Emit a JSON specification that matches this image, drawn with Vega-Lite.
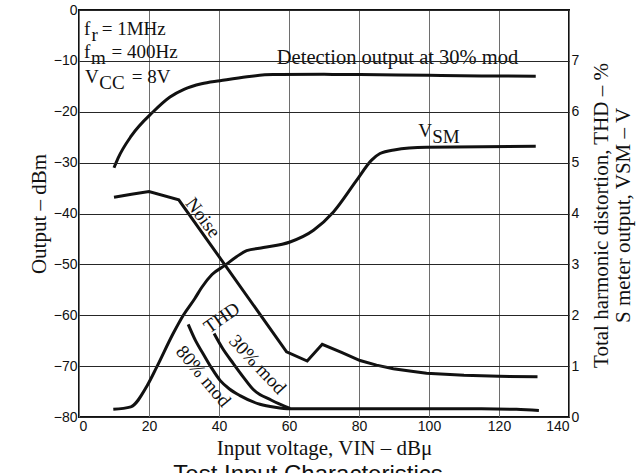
{
  "$schema": "https://vega.github.io/schema/vega-lite/v6.json",
  "width": 490,
  "height": 407,
  "autosize": {"type": "none"},
  "padding": {"left": 79, "top": 10, "right": 69, "bottom": 56},
  "background": "white",
  "title": {"text": "Test Input Characteristics", "orient": "bottom", "anchor": "middle", "font": "Liberation Sans", "fontSize": 24, "fontWeight": "normal", "color": "#111", "offset": 5, "dx": -16},
  "config": {
    "view": {"stroke": "#111", "strokeWidth": 2},
    "axis": {"labelFont": "Liberation Sans", "labelFontSize": 14, "labelColor": "#111", "titleFont": "Liberation Serif", "titleFontSize": 21, "titleFontWeight": "normal", "titleColor": "#111", "ticks": false, "domain": false},
    "text": {"font": "Liberation Serif", "fontSize": 19, "color": "#111"}
  },
  "datasets": {
    "left": [
      {"series": "Detection output", "x": 10, "y": -31},
      {"series": "Detection output", "x": 11.1, "y": -29.2},
      {"series": "Detection output", "x": 15, "y": -24.7},
      {"series": "Detection output", "x": 21.2, "y": -20},
      {"series": "Detection output", "x": 26, "y": -17.1},
      {"series": "Detection output", "x": 30, "y": -15.6},
      {"series": "Detection output", "x": 35, "y": -14.5},
      {"series": "Detection output", "x": 40.3, "y": -13.9},
      {"series": "Detection output", "x": 48, "y": -13.1},
      {"series": "Detection output", "x": 55.4, "y": -12.7},
      {"series": "Detection output", "x": 70, "y": -12.65},
      {"series": "Detection output", "x": 80.3, "y": -12.7},
      {"series": "Detection output", "x": 100, "y": -12.85},
      {"series": "Detection output", "x": 115, "y": -12.95},
      {"series": "Detection output", "x": 130.5, "y": -13.0},
      {"series": "Noise", "x": 10, "y": -36.8},
      {"series": "Noise", "x": 15, "y": -36.2},
      {"series": "Noise", "x": 20, "y": -35.7},
      {"series": "Noise", "x": 28.5, "y": -37.3},
      {"series": "Noise", "x": 59.3, "y": -67.2},
      {"series": "Noise", "x": 65.2, "y": -69.0},
      {"series": "Noise", "x": 69.5, "y": -65.7},
      {"series": "Noise", "x": 75, "y": -67.3},
      {"series": "Noise", "x": 80.3, "y": -68.9},
      {"series": "Noise", "x": 85, "y": -69.8},
      {"series": "Noise", "x": 89.8, "y": -70.5},
      {"series": "Noise", "x": 95, "y": -71.0},
      {"series": "Noise", "x": 99.3, "y": -71.4},
      {"series": "Noise", "x": 110, "y": -71.8},
      {"series": "Noise", "x": 120, "y": -72.0},
      {"series": "Noise", "x": 131, "y": -72.1}
    ],
    "right": [
      {"series": "VSM", "x": 9.8, "y": 0.15},
      {"series": "VSM", "x": 14.8, "y": 0.2},
      {"series": "VSM", "x": 19.5, "y": 0.62},
      {"series": "VSM", "x": 22.2, "y": 0.98},
      {"series": "VSM", "x": 26.9, "y": 1.64},
      {"series": "VSM", "x": 29.8, "y": 2.0},
      {"series": "VSM", "x": 33.1, "y": 2.33},
      {"series": "VSM", "x": 35.1, "y": 2.55},
      {"series": "VSM", "x": 38, "y": 2.8},
      {"series": "VSM", "x": 41.7, "y": 2.98},
      {"series": "VSM", "x": 45, "y": 3.15},
      {"series": "VSM", "x": 47.9, "y": 3.27},
      {"series": "VSM", "x": 52.7, "y": 3.33},
      {"series": "VSM", "x": 60.3, "y": 3.44},
      {"series": "VSM", "x": 67, "y": 3.67},
      {"series": "VSM", "x": 72.7, "y": 4.03},
      {"series": "VSM", "x": 79.3, "y": 4.65},
      {"series": "VSM", "x": 83.6, "y": 5.05},
      {"series": "VSM", "x": 86, "y": 5.18},
      {"series": "VSM", "x": 90, "y": 5.25},
      {"series": "VSM", "x": 99.3, "y": 5.3},
      {"series": "VSM", "x": 130.5, "y": 5.32},
      {"series": "THD 30% mod", "x": 38.6, "y": 1.64},
      {"series": "THD 30% mod", "x": 41, "y": 1.35},
      {"series": "THD 30% mod", "x": 44.1, "y": 1.05},
      {"series": "THD 30% mod", "x": 47, "y": 0.78},
      {"series": "THD 30% mod", "x": 49.8, "y": 0.54},
      {"series": "THD 30% mod", "x": 55, "y": 0.33},
      {"series": "THD 30% mod", "x": 60.3, "y": 0.17},
      {"series": "THD 80% mod", "x": 31.2, "y": 1.82},
      {"series": "THD 80% mod", "x": 33.3, "y": 1.5},
      {"series": "THD 80% mod", "x": 35.5, "y": 1.24},
      {"series": "THD 80% mod", "x": 38, "y": 0.95},
      {"series": "THD 80% mod", "x": 40.3, "y": 0.72},
      {"series": "THD 80% mod", "x": 43, "y": 0.55},
      {"series": "THD 80% mod", "x": 46, "y": 0.42},
      {"series": "THD 80% mod", "x": 51.7, "y": 0.25},
      {"series": "THD 80% mod", "x": 56, "y": 0.19},
      {"series": "THD 80% mod", "x": 60.3, "y": 0.16},
      {"series": "THD 80% mod", "x": 80, "y": 0.16},
      {"series": "THD 80% mod", "x": 100, "y": 0.16},
      {"series": "THD 80% mod", "x": 115, "y": 0.16},
      {"series": "THD 80% mod", "x": 125, "y": 0.15},
      {"series": "THD 80% mod", "x": 131.4, "y": 0.13}
    ],
    "labels": [
      {"text": "f", "x": 1.4, "y": -5.0},
      {"text": "= 1MHz", "x": 6.5, "y": -5.0},
      {"text": "f", "x": 1.4, "y": -9.53},
      {"text": "= 400Hz", "x": 9.3, "y": -9.53},
      {"text": "V", "x": 1.7, "y": -14.44},
      {"text": "= 8V", "x": 15.05, "y": -14.44},
      {"text": "V", "x": 96.9, "y": -25.05}
    ],
    "subs": [
      {"text": "r", "x": 3.6, "y": -5.0},
      {"text": "m", "x": 3.43, "y": -9.53},
      {"text": "CC", "x": 5.8, "y": -14.44},
      {"text": "SM", "x": 100.9, "y": -25.05}
    ],
    "captions": [
      {"text": "Detection output at 30% mod", "x": 91, "y": -10.6},
      {"text": "Noise", "x": 35.4, "y": -40.8},
      {"text": "THD", "x": 40.8, "y": -60.5},
      {"text": "30% mod", "x": 51, "y": -69.7},
      {"text": "80% mod", "x": 35.5, "y": -72}
    ]
  },
  "layer": [
    {
      "data": {"name": "left"},
      "transform": [{"filter": "datum.series == 'Detection output'"}],
      "mark": {"type": "line", "color": "#111", "strokeWidth": 3, "interpolate": "monotone"},
      "encoding": {
        "x": {"field": "x", "type": "quantitative", "scale": {"domain": [0, 140], "nice": false, "zero": false},
          "axis": {"values": [0, 20, 40, 60, 80, 100, 120, 140], "grid": true, "gridColor": "#6e6e6e", "title": "Input voltage, VIN  –  dBμ"}},
        "y": {"field": "y", "type": "quantitative", "scale": {"domain": [-80, 0], "nice": false, "zero": false},
          "axis": {"values": [-80, -70, -60, -50, -40, -30, -20, -10, 0], "grid": true, "gridColor": "#262626", "zindex": 1, "title": "Output  –  dBm"}}
      }
    },
    {
      "data": {"name": "left"},
      "transform": [{"filter": "datum.series == 'Noise'"}],
      "mark": {"type": "line", "color": "#111", "strokeWidth": 3, "interpolate": "linear"},
      "encoding": {
        "x": {"field": "x", "type": "quantitative", "scale": {"domain": [0, 140], "nice": false, "zero": false}},
        "y": {"field": "y", "type": "quantitative", "scale": {"domain": [-80, 0], "nice": false, "zero": false}, "axis": null}
      }
    },
    {
      "data": {"name": "right"},
      "transform": [{"filter": "datum.series == 'VSM'"}],
      "mark": {"type": "line", "color": "#111", "strokeWidth": 3, "interpolate": "monotone"},
      "encoding": {
        "x": {"field": "x", "type": "quantitative", "scale": {"domain": [0, 140], "nice": false, "zero": false}},
        "y": {"field": "y", "type": "quantitative", "scale": {"domain": [0, 8], "nice": false, "zero": false},
          "axis": {"orient": "right", "values": [0, 1, 2, 3, 4, 5, 6, 7], "grid": false,
            "title": ["Total harmonic distortion, THD – %", "S meter output, VSM – V"],
            "titleAngle": 270, "titleX": 32, "titleY": 205, "titleAlign": "center", "titleBaseline": "middle", "titleLineHeight": 22}}
      }
    },
    {
      "data": {"name": "right"},
      "transform": [{"filter": "datum.series == 'THD 30% mod'"}],
      "mark": {"type": "line", "color": "#111", "strokeWidth": 3, "interpolate": "monotone"},
      "encoding": {
        "x": {"field": "x", "type": "quantitative", "scale": {"domain": [0, 140], "nice": false, "zero": false}},
        "y": {"field": "y", "type": "quantitative", "scale": {"domain": [0, 8], "nice": false, "zero": false}, "axis": null}
      }
    },
    {
      "data": {"name": "right"},
      "transform": [{"filter": "datum.series == 'THD 80% mod'"}],
      "mark": {"type": "line", "color": "#111", "strokeWidth": 3, "interpolate": "monotone"},
      "encoding": {
        "x": {"field": "x", "type": "quantitative", "scale": {"domain": [0, 140], "nice": false, "zero": false}},
        "y": {"field": "y", "type": "quantitative", "scale": {"domain": [0, 8], "nice": false, "zero": false}, "axis": null}
      }
    },
    {
      "data": {"name": "labels"},
      "mark": {"type": "text", "align": "left", "baseline": "alphabetic"},
      "encoding": {
        "x": {"field": "x", "type": "quantitative", "scale": {"domain": [0, 140], "nice": false, "zero": false}},
        "y": {"field": "y", "type": "quantitative", "scale": {"domain": [-80, 0], "nice": false, "zero": false}, "axis": null},
        "text": {"field": "text"}
      }
    },
    {
      "data": {"name": "subs"},
      "mark": {"type": "text", "align": "left", "baseline": "alphabetic", "dy": 6},
      "encoding": {
        "x": {"field": "x", "type": "quantitative", "scale": {"domain": [0, 140], "nice": false, "zero": false}},
        "y": {"field": "y", "type": "quantitative", "scale": {"domain": [-80, 0], "nice": false, "zero": false}, "axis": null},
        "text": {"field": "text"}
      }
    },
    {
      "data": {"name": "captions"},
      "transform": [{"filter": "datum.text == 'Detection output at 30% mod'"}],
      "mark": {"type": "text", "align": "center", "baseline": "alphabetic", "fontSize": 20.5},
      "encoding": {
        "x": {"field": "x", "type": "quantitative", "scale": {"domain": [0, 140], "nice": false, "zero": false}},
        "y": {"field": "y", "type": "quantitative", "scale": {"domain": [-80, 0], "nice": false, "zero": false}, "axis": null},
        "text": {"field": "text"}
      }
    },
    {
      "data": {"name": "captions"},
      "transform": [{"filter": "datum.text == 'Noise'"}],
      "mark": {"type": "text", "align": "center", "baseline": "middle", "angle": 53},
      "encoding": {
        "x": {"field": "x", "type": "quantitative", "scale": {"domain": [0, 140], "nice": false, "zero": false}},
        "y": {"field": "y", "type": "quantitative", "scale": {"domain": [-80, 0], "nice": false, "zero": false}, "axis": null},
        "text": {"field": "text"}
      }
    },
    {
      "data": {"name": "captions"},
      "transform": [{"filter": "datum.text == 'THD'"}],
      "mark": {"type": "text", "align": "center", "baseline": "middle", "angle": -35},
      "encoding": {
        "x": {"field": "x", "type": "quantitative", "scale": {"domain": [0, 140], "nice": false, "zero": false}},
        "y": {"field": "y", "type": "quantitative", "scale": {"domain": [-80, 0], "nice": false, "zero": false}, "axis": null},
        "text": {"field": "text"}
      }
    },
    {
      "data": {"name": "captions"},
      "transform": [{"filter": "datum.text == '30% mod'"}],
      "mark": {"type": "text", "align": "center", "baseline": "middle", "angle": 47},
      "encoding": {
        "x": {"field": "x", "type": "quantitative", "scale": {"domain": [0, 140], "nice": false, "zero": false}},
        "y": {"field": "y", "type": "quantitative", "scale": {"domain": [-80, 0], "nice": false, "zero": false}, "axis": null},
        "text": {"field": "text"}
      }
    },
    {
      "data": {"name": "captions"},
      "transform": [{"filter": "datum.text == '80% mod'"}],
      "mark": {"type": "text", "align": "center", "baseline": "middle", "angle": 50},
      "encoding": {
        "x": {"field": "x", "type": "quantitative", "scale": {"domain": [0, 140], "nice": false, "zero": false}},
        "y": {"field": "y", "type": "quantitative", "scale": {"domain": [-80, 0], "nice": false, "zero": false}, "axis": null},
        "text": {"field": "text"}
      }
    }
  ],
  "resolve": {"scale": {"y": "independent"}, "axis": {"y": "independent"}}
}
